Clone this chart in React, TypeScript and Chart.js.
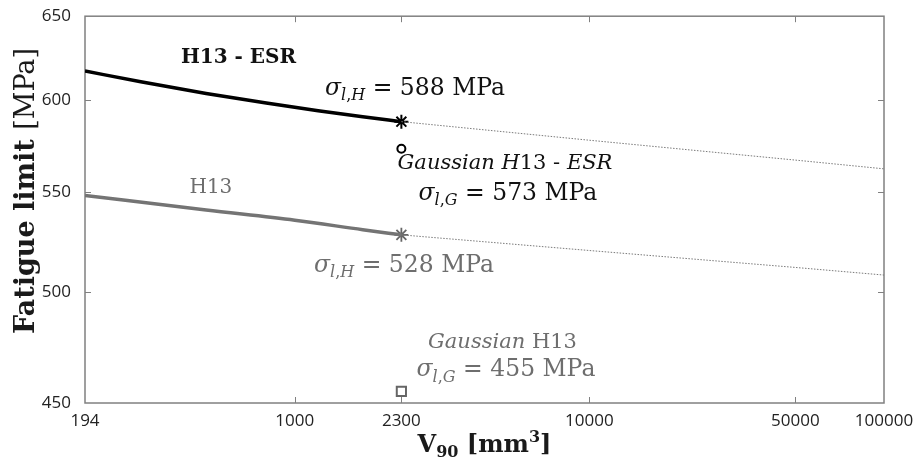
import React, { useEffect, useRef } from "react";
import { Chart, registerables } from "chart.js";

Chart.register(...registerables);

// ---- axis ticks ----
const xTicks = [194, 1000, 2300, 10000, 50000, 100000];
const yTicks = [450, 500, 550, 600, 650];

// ---- fitted curves (solid, within tested range) ----
const esrV = [194, 300, 500, 800, 1200, 1700, 2300];
const esrSigma = [617, 610.7, 604, 598.5, 594.1, 590.7, 588];
const h13V = [194, 500, 1000, 1700, 2300];
const h13Sigma = [548.2, 540.6, 535.4, 530.6, 528];

// ---- extrapolations (dotted) ----
const extV = [2300, 10000, 50000, 100000];
const esrExt = [588, 577.7, 566.9, 562.2];
const h13Ext = [528, 520.2, 511.9, 508.2];

// ---- markers at V90 = 2300 ----
const markerV = 2300;
const esrHeuristic = 588;
const h13Heuristic = 528;
const esrGaussian = 573;
const h13Gaussian = 455;

const SERIF = '"DejaVu Serif", "Liberation Serif", serif';
const BLACK = "#111111";
const GRAY = "#6e6e6e";

type Seg = { t: string; i?: boolean; b?: boolean; sub?: boolean; sup?: boolean };
type Note = { x: number; y: number; segs: Seg[]; size: number; color: string; align: "left" | "center" };

const sigma = (s: string, val: string): Seg[] => [
  { t: "σ", i: true },
  { t: "l", i: true, sub: true },
  { t: ",", sub: true },
  { t: s, i: true, sub: true },
  { t: " = " + val + " MPa" },
];

const notes: Note[] = [
  { x: 644, y: 621.6, segs: [{ t: "H13 - ESR", b: true }], size: 20, color: BLACK, align: "center" },
  { x: 1266, y: 603.2, segs: sigma("H", "588"), size: 23.5, color: BLACK, align: "left" },
  {
    x: 5170,
    y: 562.1,
    segs: [{ t: "Gaussian ", i: true }, { t: "H", i: true }, { t: "13" }, { t: " - " }, { t: "ESR", i: true }],
    size: 21,
    color: BLACK,
    align: "center",
  },
  { x: 5291, y: 545.9, segs: sigma("G", "573"), size: 23.5, color: BLACK, align: "center" },
  { x: 519, y: 549.5, segs: [{ t: "H13" }], size: 20, color: GRAY, align: "center" },
  { x: 2348, y: 509.9, segs: sigma("H", "528"), size: 23.5, color: GRAY, align: "center" },
  { x: 5070, y: 474.3, segs: [{ t: "Gaussian ", i: true }, { t: "H13" }], size: 21, color: GRAY, align: "center" },
  { x: 5210, y: 461.5, segs: sigma("G", "455"), size: 23.5, color: GRAY, align: "center" },
];

const yTitle: Seg[] = [{ t: "Fatigue limit ", b: true }, { t: "[MPa]" }];
const xTitle: Seg[] = [
  { t: "V", b: true },
  { t: "90", b: true, sub: true },
  { t: " [mm", b: true },
  { t: "3", b: true, sup: true },
  { t: "]", b: true },
];

function segFont(s: Seg, size: number) {
  const fs = s.sub || s.sup ? Math.round(size * 0.66) : size;
  return `${s.i ? "italic " : ""}${s.b ? "bold " : ""}${fs}px ${SERIF}`;
}

function drawRich(
  ctx: CanvasRenderingContext2D,
  segs: Seg[],
  x: number,
  y: number,
  size: number,
  color: string,
  align: "left" | "center"
) {
  ctx.save();
  ctx.fillStyle = color;
  ctx.textBaseline = "alphabetic";
  ctx.textAlign = "left";
  let total = 0;
  const widths = segs.map((s) => {
    ctx.font = segFont(s, size);
    const w = ctx.measureText(s.t).width;
    total += w;
    return w;
  });
  let cx = align === "center" ? x - total / 2 : x;
  segs.forEach((s, k) => {
    ctx.font = segFont(s, size);
    const dy = s.sub ? size * 0.22 : s.sup ? -size * 0.42 : 0;
    ctx.fillText(s.t, cx, y + dy);
    cx += widths[k];
  });
  ctx.restore();
}

const framePlugin = {
  id: "matlabFrame",
  beforeDatasetsDraw(chart: any) {
    const { ctx, chartArea: a, scales } = chart;
    ctx.save();
    ctx.strokeStyle = "#808080";
    ctx.lineWidth = 1.5;
    ctx.strokeRect(a.left, a.top, a.right - a.left, a.bottom - a.top);
    ctx.lineWidth = 1;
    const L = 6;
    ctx.beginPath();
    for (const v of xTicks) {
      const px = Math.round(scales.x.getPixelForValue(v)) + 0.5;
      if (px <= a.left + 2 || px >= a.right - 2) continue;
      ctx.moveTo(px, a.bottom);
      ctx.lineTo(px, a.bottom - L);
      ctx.moveTo(px, a.top);
      ctx.lineTo(px, a.top + L);
    }
    for (const v of yTicks) {
      const py = Math.round(scales.y.getPixelForValue(v)) + 0.5;
      if (py <= a.top + 2 || py >= a.bottom - 2) continue;
      ctx.moveTo(a.left, py);
      ctx.lineTo(a.left + L, py);
      ctx.moveTo(a.right, py);
      ctx.lineTo(a.right - L, py);
    }
    ctx.stroke();
    ctx.restore();
  },
  afterDraw(chart: any) {
    const { ctx, scales, chartArea: a } = chart;
    for (const n of notes) {
      const px = scales.x.getPixelForValue(n.x);
      const py = scales.y.getPixelForValue(n.y);
      drawRich(ctx, n.segs, px, py, n.size, n.color, n.align);
    }
    // y-axis title
    ctx.save();
    ctx.translate(34, 191);
    ctx.rotate(-Math.PI / 2);
    drawRich(ctx, yTitle, 0, 0, 27, "#1a1a1a", "center");
    ctx.restore();
    // x-axis title
    drawRich(ctx, xTitle, (a.left + a.right) / 2, 452, 24, "#1a1a1a", "center");
  },
};

export default function App() {
  const ref = useRef<HTMLCanvasElement | null>(null);

  useEffect(() => {
    if (!ref.current) return;
    const pts = (xs: number[], ys: number[]) => xs.map((x, k) => ({ x, y: ys[k] }));
    const chart = new Chart(ref.current, {
      type: "line",
      data: {
        datasets: [
          {
            label: "H13 - ESR extrapolation",
            data: pts(extV, esrExt),
            borderColor: "#7a7a7a",
            borderWidth: 1,
            borderDash: [1.5, 1.5],
            pointRadius: 0,
            tension: 0,
          },
          {
            label: "H13 extrapolation",
            data: pts(extV, h13Ext),
            borderColor: "#7a7a7a",
            borderWidth: 1,
            borderDash: [1.5, 1.5],
            pointRadius: 0,
            tension: 0,
          },
          {
            label: "H13 - ESR",
            data: pts(esrV, esrSigma),
            borderColor: "#000000",
            borderWidth: 3.5,
            pointRadius: 0,
            cubicInterpolationMode: "monotone",
          },
          {
            label: "H13",
            data: pts(h13V, h13Sigma),
            borderColor: "#747474",
            borderWidth: 3.5,
            pointRadius: 0,
            cubicInterpolationMode: "monotone",
          },
          {
            label: "H13 - ESR heuristic",
            data: [{ x: markerV, y: esrHeuristic }],
            showLine: false,
            pointStyle: "star",
            pointRadius: 7,
            borderColor: "#000000",
            borderWidth: 2,
          },
          {
            label: "H13 heuristic",
            data: [{ x: markerV, y: h13Heuristic }],
            showLine: false,
            pointStyle: "star",
            pointRadius: 7,
            borderColor: "#666666",
            borderWidth: 1.8,
          },
          {
            label: "H13 - ESR Gaussian",
            data: [{ x: markerV, y: esrGaussian }],
            showLine: false,
            pointStyle: "circle",
            pointRadius: 4,
            borderColor: "#000000",
            backgroundColor: "#ffffff",
            borderWidth: 2,
          },
          {
            label: "H13 Gaussian",
            data: [{ x: markerV, y: h13Gaussian }],
            showLine: false,
            pointStyle: "rect",
            pointRadius: 6.5,
            borderColor: "#666666",
            backgroundColor: "#ffffff",
            borderWidth: 2,
          },
        ],
      },
      options: {
        animation: false,
        responsive: false,
        maintainAspectRatio: false,
        layout: { padding: { top: 13, right: 33, left: 0, bottom: 0 } },
        plugins: { legend: { display: false }, tooltip: { enabled: false } },
        scales: {
          x: {
            type: "logarithmic",
            min: 194,
            max: 100000,
            afterBuildTicks: (s: any) => {
              s.ticks = xTicks.map((v) => ({ value: v }));
            },
            afterFit: (s: any) => {
              s.height = 61;
            },
            grid: { display: false },
            border: { display: false },
            ticks: {
              autoSkip: false,
              maxRotation: 0,
              padding: 0,
              color: "#222222",
              font: { family: '"Open Sans", sans-serif', size: 17 },
              callback: (v: any) => String(v),
            },
          },
          y: {
            type: "logarithmic",
            min: 450,
            max: 650,
            afterBuildTicks: (s: any) => {
              s.ticks = yTicks.map((v) => ({ value: v }));
            },
            afterFit: (s: any) => {
              s.width = 85;
            },
            grid: { display: false },
            border: { display: false },
            ticks: {
              autoSkip: false,
              padding: 6,
              color: "#222222",
              font: { family: '"Open Sans", sans-serif', size: 17 },
              callback: (v: any) => String(v),
            },
          },
        },
      },
      plugins: [framePlugin],
    } as any);
    return () => chart.destroy();
  }, []);

  return (
    <div style={{ position: "fixed", left: 0, top: 0, width: 917, height: 464, background: "#ffffff" }}>
      <canvas ref={ref} width={917} height={464} />
    </div>
  );
}
